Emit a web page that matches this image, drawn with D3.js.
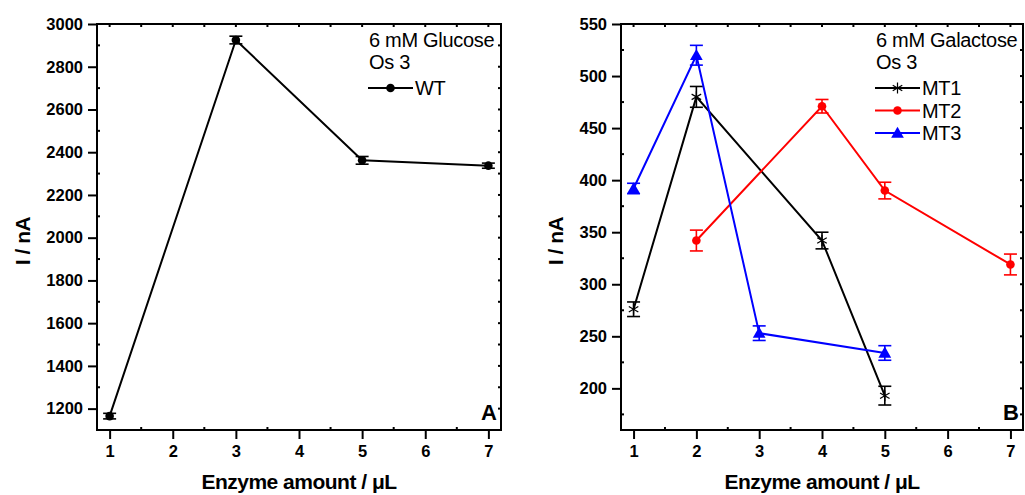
<!DOCTYPE html>
<html><head><meta charset="utf-8">
<script src="https://cdn.jsdelivr.net/npm/d3@7"></script>
<style>
html,body{margin:0;padding:0;background:#fff;}
svg{display:block;}
text{font-family:"Liberation Sans",Arial,sans-serif;}
</style></head>
<body><svg id="c" width="1025" height="495"></svg>
<script>
// ---- Data ----
const xTicks = [1,2,3,4,5,6,7];
const xMinor = [1.5,2.5,3.5,4.5,5.5,6.5];

// Panel A
const aTitle = ["6 mM Glucose","Os 3"];
const aYTicks = [1200,1400,1600,1800,2000,2200,2400,2600,2800,3000];
const aYMinor = [1300,1500,1700,1900,2100,2300,2500,2700,2900];
const wtX = [1,3,5,7];
const wtY = [1165,2925,2362,2337];
const wtErr = [13,18,18,12];

// Panel B
const bTitle = ["6 mM Galactose","Os 3"];
const bYTicks = [200,250,300,350,400,450,500,550];
const bYMinor = [175,225,275,325,375,425,475,525];
const mt1X = [1,2,4,5], mt1Y = [276,480,342,193], mt1Err = [7,10,8,9];
const mt2X = [2,4,5,7], mt2Y = [342,471,390,319], mt2Err = [10,6.5,8,10];
const mt3X = [1,2,3,5], mt3Y = [392,520,253,234], mt3Err = [5,9.5,7,7];

const svg = d3.select("#c");

function drawPanel(cfg){
  const {x0,x1,y0,y1,yDomain,yTicks,yMinor,series,title,label,legendX,yTitleX} = cfg;
  const x = d3.scaleLinear().domain([0.8,7.2]).range([x0,x1]);
  const y = d3.scaleLinear().domain(yDomain).range([y1,y0]);
  const g = svg.append("g");

  // frame
  g.append("rect").attr("x",x0).attr("y",y0).attr("width",x1-x0).attr("height",y1-y0)
    .attr("fill","none").attr("stroke","#000").attr("stroke-width",2);

  const bx = g.append("g").attr("transform",`translate(0,${y1})`)
    .call(d3.axisBottom(x).tickValues(xTicks).tickSize(9).tickPadding(6).tickFormat(d3.format("d")));
  bx.select(".domain").remove();
  bx.selectAll("line").attr("stroke-width",2);
  bx.selectAll("text").attr("font-size",16.5).attr("font-weight","bold").attr("fill","#000");

  const ly = g.append("g").attr("transform",`translate(${x0},0)`)
    .call(d3.axisLeft(y).tickValues(yTicks).tickSize(9).tickPadding(5).tickFormat(d3.format("d")));
  ly.select(".domain").remove();
  ly.selectAll("line").attr("stroke-width",2);
  ly.selectAll("text").attr("font-size",16.5).attr("font-weight","bold").attr("fill","#000");

  // minor & mirror ticks
  const tk = g.append("g").attr("stroke","#000").attr("stroke-width",2);
  xMinor.forEach(v=>{
    tk.append("line").attr("x1",x(v)).attr("x2",x(v)).attr("y1",y1).attr("y2",y1-3);
  });
  xTicks.concat(xMinor).forEach(v=>{
    tk.append("line").attr("x1",x(v)).attr("x2",x(v)).attr("y1",y0).attr("y2",y0+3);
  });
  yMinor.forEach(v=>{
    tk.append("line").attr("x1",x0).attr("x2",x0+3).attr("y1",y(v)).attr("y2",y(v));
  });
  yTicks.concat(yMinor).forEach(v=>{
    tk.append("line").attr("x1",x1).attr("x2",x1-3).attr("y1",y(v)).attr("y2",y(v));
  });

  // series
  const line = d3.line().x(d=>x(d[0])).y(d=>y(d[1]));
  series.forEach(s=>{
    const pts = s.x.map((v,i)=>[v,s.y[i],s.e[i]]);
    g.append("path").datum(pts).attr("d",line).attr("fill","none")
      .attr("stroke",s.color).attr("stroke-width",2);
    pts.forEach(p=>{
      const cx=x(p[0]), top=y(p[1]+p[2]), bot=y(p[1]-p[2]);
      const eb=g.append("g").attr("stroke",s.color).attr("stroke-width",1.6);
      eb.append("line").attr("x1",cx).attr("x2",cx).attr("y1",top).attr("y2",bot);
      eb.append("line").attr("x1",cx-6.5).attr("x2",cx+6.5).attr("y1",top).attr("y2",top);
      eb.append("line").attr("x1",cx-6.5).attr("x2",cx+6.5).attr("y1",bot).attr("y2",bot);
      drawMarker(g,s.marker,cx,y(p[1]),s.color);
    });
  });

  // legend text
  const fs=20;
  title.forEach((t,i)=>{
    g.append("text").attr("x",legendX).attr("y",47+i*21.5).attr("font-size",fs)
      .attr("letter-spacing","-0.3").attr("fill","#000").text(t);
  });
  series.forEach((s,i)=>{
    const ly2 = 88 + i*22.5;
    g.append("line").attr("x1",legendX-1).attr("x2",legendX+44).attr("y1",ly2).attr("y2",ly2)
      .attr("stroke",s.color).attr("stroke-width",2);
    drawMarker(g,s.marker,legendX+21.5,ly2,s.color);
    g.append("text").attr("x",legendX+46).attr("y",ly2+7).attr("font-size",fs)
      .attr("letter-spacing","-0.3").attr("fill","#000").text(s.name);
  });

  // panel label
  g.append("text").attr("x",x1-4).attr("y",y1-10).attr("text-anchor","end")
    .attr("font-size",22).attr("font-weight","bold").text(label);

  // axis titles
  g.append("text").attr("x",(x0+x1)/2).attr("y",489).attr("text-anchor","middle")
    .attr("font-size",21).attr("font-weight","bold").attr("letter-spacing","-0.5").text("Enzyme amount / μL");
  g.append("text").attr("transform",`translate(${yTitleX},${(y0+y1)/2+14}) rotate(-90)`)
    .attr("text-anchor","middle").attr("font-size",21).attr("font-weight","bold").attr("letter-spacing","-0.5").text("I / nA");
}

function drawMarker(g,type,cx,cy,color){
  if(type==="circle"){
    g.append("circle").attr("cx",cx).attr("cy",cy).attr("r",4.3).attr("fill",color);
  } else if(type==="triangle"){
    g.append("path").attr("d",d3.symbol(d3.symbolTriangle,70)()).attr("transform",`translate(${cx},${cy+1})`).attr("fill",color);
  } else if(type==="star"){
    const r=5.5, s=g.append("g").attr("stroke",color).attr("stroke-width",1.2);
    [90,30,150].forEach(a=>{
      const dx=r*Math.cos(a*Math.PI/180), dy=r*Math.sin(a*Math.PI/180);
      s.append("line").attr("x1",cx-dx).attr("x2",cx+dx).attr("y1",cy-dy).attr("y2",cy+dy);
    });
  }
}

drawPanel({x0:97,x1:501,y0:24,y1:430,yDomain:[1100,3000],yTicks:aYTicks,yMinor:aYMinor,
  series:[{name:"WT",x:wtX,y:wtY,e:wtErr,color:"#000",marker:"circle"}],
  title:aTitle,label:"A",legendX:369,yTitleX:30});

drawPanel({x0:621,x1:1023,y0:24,y1:430,yDomain:[160,550],yTicks:bYTicks,yMinor:bYMinor,
  series:[{name:"MT1",x:mt1X,y:mt1Y,e:mt1Err,color:"#000",marker:"star"},
          {name:"MT2",x:mt2X,y:mt2Y,e:mt2Err,color:"#ff0000",marker:"circle"},
          {name:"MT3",x:mt3X,y:mt3Y,e:mt3Err,color:"#0000ff",marker:"triangle"}],
  title:bTitle,label:"B",legendX:876,yTitleX:563});
</script></body></html>
